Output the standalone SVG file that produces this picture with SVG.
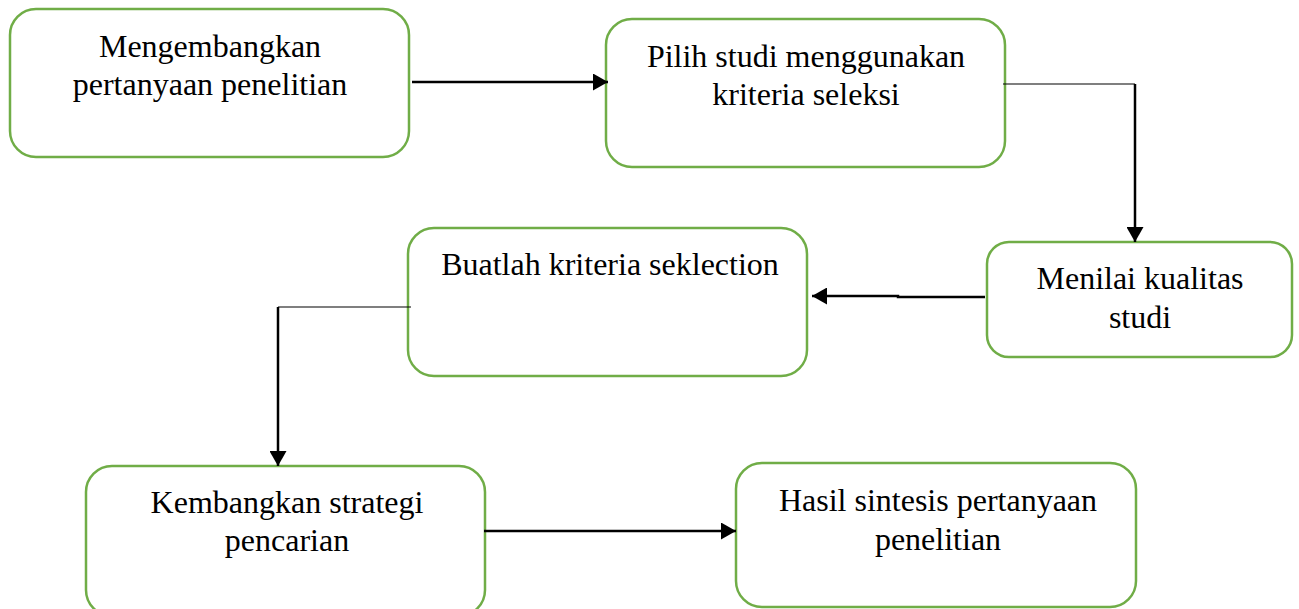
<svg xmlns="http://www.w3.org/2000/svg" width="1299" height="609" viewBox="0 0 1299 609">
<style>
.box{fill:#fff;stroke:#70AD47;stroke-width:2.5}
.t{font-family:"Liberation Serif","Times New Roman",serif;font-size:32px;fill:#000;text-anchor:middle}
.thin{stroke:#000;stroke-width:1.2;fill:none}
.thick{stroke:#000;stroke-width:2.5;fill:none}
</style>
<defs>
<marker id="ah" viewBox="0 0 15 17" refX="15" refY="8.5" markerWidth="15" markerHeight="17" markerUnits="userSpaceOnUse" orient="auto">
<path d="M0,0 L15,8.5 L0,17 z" fill="#000"/>
</marker>
</defs>
<rect width="1299" height="609" fill="#fff"/>
<g id="n1"><rect class="box" x="10" y="9" width="399" height="148" rx="26"/>
<text class="t" x="210" y="57">Mengembangkan</text>
<text class="t" x="210" y="95">pertanyaan penelitian</text></g>
<g id="n2"><rect class="box" x="606" y="19" width="399" height="148" rx="26"/>
<text class="t" x="806" y="67">Pilih studi menggunakan</text>
<text class="t" x="806" y="105">kriteria seleksi</text></g>
<g id="n3"><rect class="box" x="987" y="242" width="305" height="115" rx="22"/>
<text class="t" x="1140" y="289">Menilai kualitas</text>
<text class="t" x="1140" y="328">studi</text></g>
<g id="n4"><rect class="box" x="408" y="228" width="399" height="148" rx="26"/>
<text class="t" x="610" y="275">Buatlah kriteria seklection</text></g>
<g id="n5"><rect class="box" x="86" y="466" width="399" height="150" rx="26"/>
<text class="t" x="287" y="513">Kembangkan strategi</text>
<text class="t" x="287" y="551">pencarian</text></g>
<g id="n6"><rect class="box" x="736" y="463" width="400" height="144" rx="26"/>
<text class="t" x="938" y="511">Hasil sintesis pertanyaan</text>
<text class="t" x="938" y="550">penelitian</text></g>
<g id="connectors">
<line class="thick" x1="412" y1="82" x2="608" y2="82" marker-end="url(#ah)"/>
<line class="thin" x1="1003" y1="84" x2="1135" y2="84"/>
<line class="thick" x1="1135" y1="84" x2="1135" y2="242" marker-end="url(#ah)"/>
<polyline class="thick" points="985,297 898,297 898,296 812,296" marker-end="url(#ah)"/>
<line class="thin" x1="411" y1="307" x2="278" y2="307"/>
<line class="thick" x1="278" y1="307" x2="278" y2="466" marker-end="url(#ah)"/>
<line class="thick" x1="484" y1="531" x2="736" y2="531" marker-end="url(#ah)"/>
</g>
</svg>
